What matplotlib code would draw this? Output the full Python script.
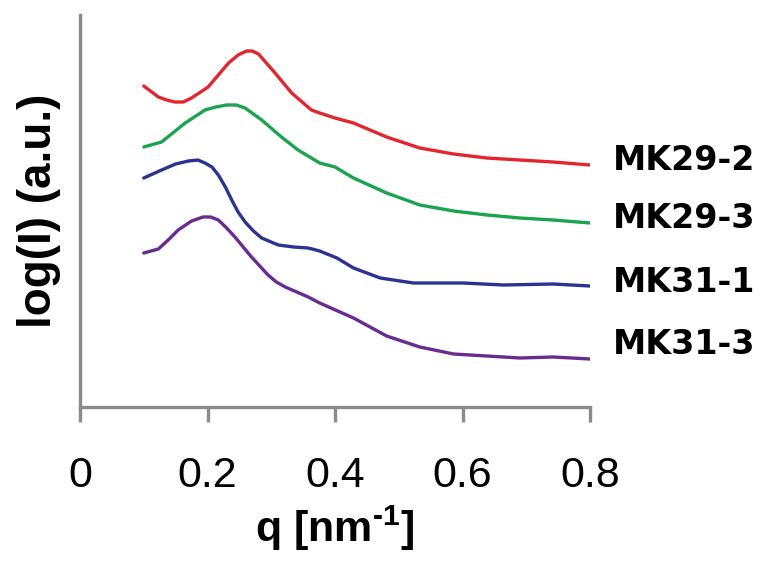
#!/usr/bin/env python3
"""
SAXS profiles log(I) vs q for four samples, offset vertically.

Output:
    out.png
"""

import matplotlib
matplotlib.use("Agg")
import matplotlib.pyplot as plt


# ============================================================
# Data (arbitrary log units)
# ============================================================

samples = ["MK29-2", "MK29-3", "MK31-1", "MK31-3"]

q_mk29_2 = [0.10, 0.123, 0.136, 0.149, 0.162, 0.175, 0.201, 0.233, 0.248, 0.261,
            0.270, 0.280, 0.306, 0.332, 0.363, 0.376, 0.400, 0.429, 0.481, 0.533,
            0.586, 0.638, 0.690, 0.742, 0.80]
i_mk29_2 = [3.21, 3.10, 3.07, 3.05, 3.05, 3.09, 3.20, 3.44, 3.52, 3.56,
            3.56, 3.53, 3.34, 3.14, 2.97, 2.94, 2.89, 2.84, 2.70, 2.59,
            2.53, 2.49, 2.47, 2.45, 2.42]

q_mk29_3 = [0.10, 0.128, 0.165, 0.196, 0.213, 0.230, 0.245, 0.259, 0.285, 0.316,
            0.342, 0.376, 0.400, 0.429, 0.481, 0.533, 0.586, 0.638, 0.690, 0.742, 0.80]
i_mk29_3 = [2.60, 2.65, 2.84, 2.97, 3.00, 3.02, 3.02, 2.99, 2.87, 2.70,
            2.57, 2.44, 2.40, 2.29, 2.14, 2.02, 1.96, 1.92, 1.89, 1.87, 1.84]

q_mk31_1 = [0.10, 0.128, 0.150, 0.170, 0.185, 0.196, 0.207, 0.217, 0.228, 0.238,
            0.248, 0.259, 0.272, 0.285, 0.311, 0.335, 0.358, 0.376, 0.403, 0.429,
            0.471, 0.523, 0.601, 0.664, 0.742, 0.80]
i_mk31_1 = [2.29, 2.37, 2.43, 2.46, 2.47, 2.44, 2.40, 2.32, 2.20, 2.07,
            1.95, 1.85, 1.76, 1.69, 1.62, 1.60, 1.59, 1.56, 1.49, 1.39,
            1.29, 1.24, 1.24, 1.22, 1.23, 1.21]

q_mk31_3 = [0.10, 0.123, 0.140, 0.154, 0.175, 0.193, 0.205, 0.217, 0.230, 0.243,
            0.256, 0.269, 0.282, 0.295, 0.308, 0.322, 0.340, 0.358, 0.376, 0.429,
            0.481, 0.533, 0.586, 0.638, 0.690, 0.742, 0.80]
i_mk31_3 = [1.54, 1.58, 1.68, 1.77, 1.86, 1.90, 1.90, 1.87, 1.79, 1.70,
            1.60, 1.50, 1.41, 1.32, 1.25, 1.20, 1.15, 1.10, 1.04, 0.89,
            0.71, 0.60, 0.53, 0.51, 0.49, 0.50, 0.48]

# where the sample names sit at the right of the curves
label_y = [2.47, 1.88, 1.24, 0.62]

x_ticks = [0, 0.2, 0.4, 0.6, 0.8]
x_tick_labels = ["0", "0.2", "0.4", "0.6", "0.8"]


# ============================================================
# Style
# ============================================================

COLORS = ["#e3262d", "#1ca34e", "#2b3391", "#682b8e"]
SPINE_COLOR = "#8a8a8a"

plt.rcParams["font.family"] = ["Liberation Sans", "DejaVu Sans"]
plt.rcParams["mathtext.fontset"] = "custom"
plt.rcParams["mathtext.rm"] = "Liberation Sans:bold"
plt.rcParams["mathtext.bf"] = "Liberation Sans:bold"


def main():
    fig = plt.figure(figsize=(7.63, 5.65), dpi=100)
    ax = fig.add_axes([80 / 763, 158 / 565, 510 / 763, 392 / 565])

    series = [
        (q_mk29_2, i_mk29_2),
        (q_mk29_3, i_mk29_3),
        (q_mk31_1, i_mk31_1),
        (q_mk31_3, i_mk31_3),
    ]
    for (q, intensity), color in zip(series, COLORS):
        ax.plot(q, intensity, color=color, linewidth=2.4,
                solid_capstyle="round", solid_joinstyle="round")

    for name, y in zip(samples, label_y):
        ax.text(0.836, y, name, ha="left", va="center", fontsize=24,
                fontweight="bold", family="DejaVu Sans", clip_on=False)

    ax.set_xlim(0, 0.8)
    ax.set_ylim(0, 3.92)

    ax.set_xticks(x_ticks)
    ax.set_xticklabels(x_tick_labels)
    ax.set_yticks([])

    for side in ["top", "right"]:
        ax.spines[side].set_visible(False)
    for side in ["left", "bottom"]:
        ax.spines[side].set_color(SPINE_COLOR)
        ax.spines[side].set_linewidth(2.4)

    ax.tick_params(axis="x", direction="out", length=11, width=2.4,
                   color=SPINE_COLOR, labelsize=31, pad=24)

    ax.set_xlabel(r"q [nm$^{\text{-}1}$]", fontsize=31, fontweight="bold",
                  labelpad=6)
    ax.set_ylabel("log(I) (a.u.)", fontsize=33, fontweight="bold", labelpad=14)

    fig.savefig("out.png", dpi=100)
    plt.close(fig)


if __name__ == "__main__":
    main()
